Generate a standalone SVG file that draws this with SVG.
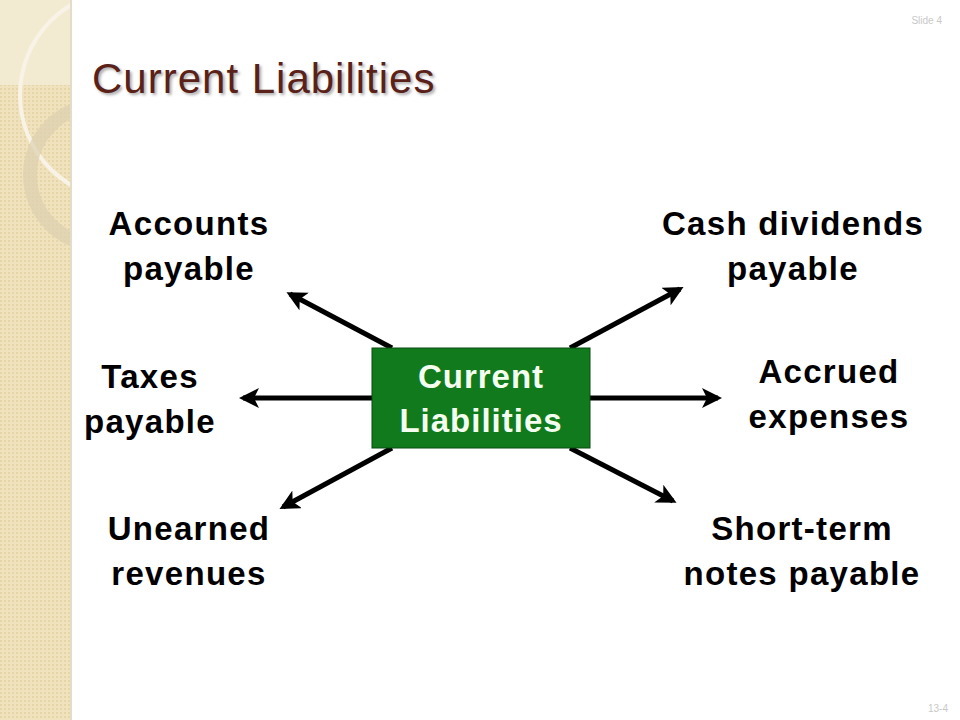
<svg xmlns="http://www.w3.org/2000/svg" width="960" height="720" viewBox="0 0 960 720">
<style>
.lbl{font-family:"Liberation Sans",Arial,sans-serif;font-weight:bold;font-size:33px;letter-spacing:1.3px;fill:#000;text-anchor:middle}
.ctr{font-family:"Liberation Sans",Arial,sans-serif;font-weight:bold;font-size:33px;letter-spacing:1px;fill:#f4fff0;text-anchor:middle}
.arr{stroke:#000;stroke-width:5;fill:none;marker-end:url(#ah)}
.sm{font-family:"Liberation Sans",Arial,sans-serif;font-size:10px;fill:#c8c8c8;text-anchor:end}
</style>
<defs>
<marker id="ah" viewBox="0 0 10 10" refX="8" refY="5" markerWidth="4" markerHeight="4" orient="auto" markerUnits="strokeWidth">
<path d="M0,0 L10,5 L0,10 L2.5,5 Z" fill="#000"/>
</marker>
<pattern id="dots" width="4" height="4" patternUnits="userSpaceOnUse">
<rect width="4" height="4" fill="#efe2bd"/><rect width="2" height="2" fill="#e6d5a8"/>
</pattern>
<clipPath id="sb"><rect x="0" y="0" width="72" height="720"/></clipPath>
</defs>
<rect width="960" height="720" fill="#fff"/>
<g id="sidebar" clip-path="url(#sb)">
<rect x="0" y="0" width="72" height="720" fill="url(#dots)"/>
<rect x="0" y="0" width="72" height="85" fill="#f3ead2"/>
<circle cx="125" cy="95" r="105" fill="none" stroke="#f8f3e6" stroke-width="4"/>
<circle cx="100" cy="175" r="70" fill="none" stroke="#ddd0b0" stroke-width="14" opacity="0.7"/>
<line x1="71" y1="0" x2="71" y2="720" stroke="#e4dccb" stroke-width="2"/>
</g>
<text x="942" y="24" class="sm">Slide 4</text>
<text x="948" y="712" class="sm">13-4</text>
<text x="92" y="93" font-family="Liberation Sans,Arial,sans-serif" font-size="42" letter-spacing="1" fill="#5a2118" style="text-shadow:2px 2px 3px #aaa">Current Liabilities</text>
<g id="connectors">
<line class="arr" x1="392" y1="348" x2="290" y2="294"/>
<line class="arr" x1="570" y1="348" x2="680" y2="289"/>
<line class="arr" x1="372" y1="398" x2="243" y2="398"/>
<line class="arr" x1="590" y1="398" x2="718" y2="398"/>
<line class="arr" x1="392" y1="448" x2="283" y2="507"/>
<line class="arr" x1="570" y1="448" x2="673" y2="501"/>
</g>
<g id="center">
<rect x="372" y="348" width="218" height="100" fill="#107a1c" stroke="#0a4a10" stroke-width="1"/>
<text x="481" y="388" class="ctr">Current</text>
<text x="481" y="432" class="ctr">Liabilities</text>
</g>
<g id="accounts"><text x="189" y="235" class="lbl">Accounts</text><text x="189" y="280" class="lbl">payable</text></g>
<g id="cashdiv"><text x="793" y="235" class="lbl">Cash dividends</text><text x="793" y="280" class="lbl">payable</text></g>
<g id="taxes"><text x="150" y="388" class="lbl">Taxes</text><text x="150" y="433" class="lbl">payable</text></g>
<g id="accrued"><text x="829" y="383" class="lbl">Accrued</text><text x="829" y="428" class="lbl">expenses</text></g>
<g id="unearned"><text x="189" y="540" class="lbl">Unearned</text><text x="189" y="585" class="lbl">revenues</text></g>
<g id="shortterm"><text x="802" y="540" class="lbl">Short-term</text><text x="802" y="585" class="lbl">notes payable</text></g>
</svg>
